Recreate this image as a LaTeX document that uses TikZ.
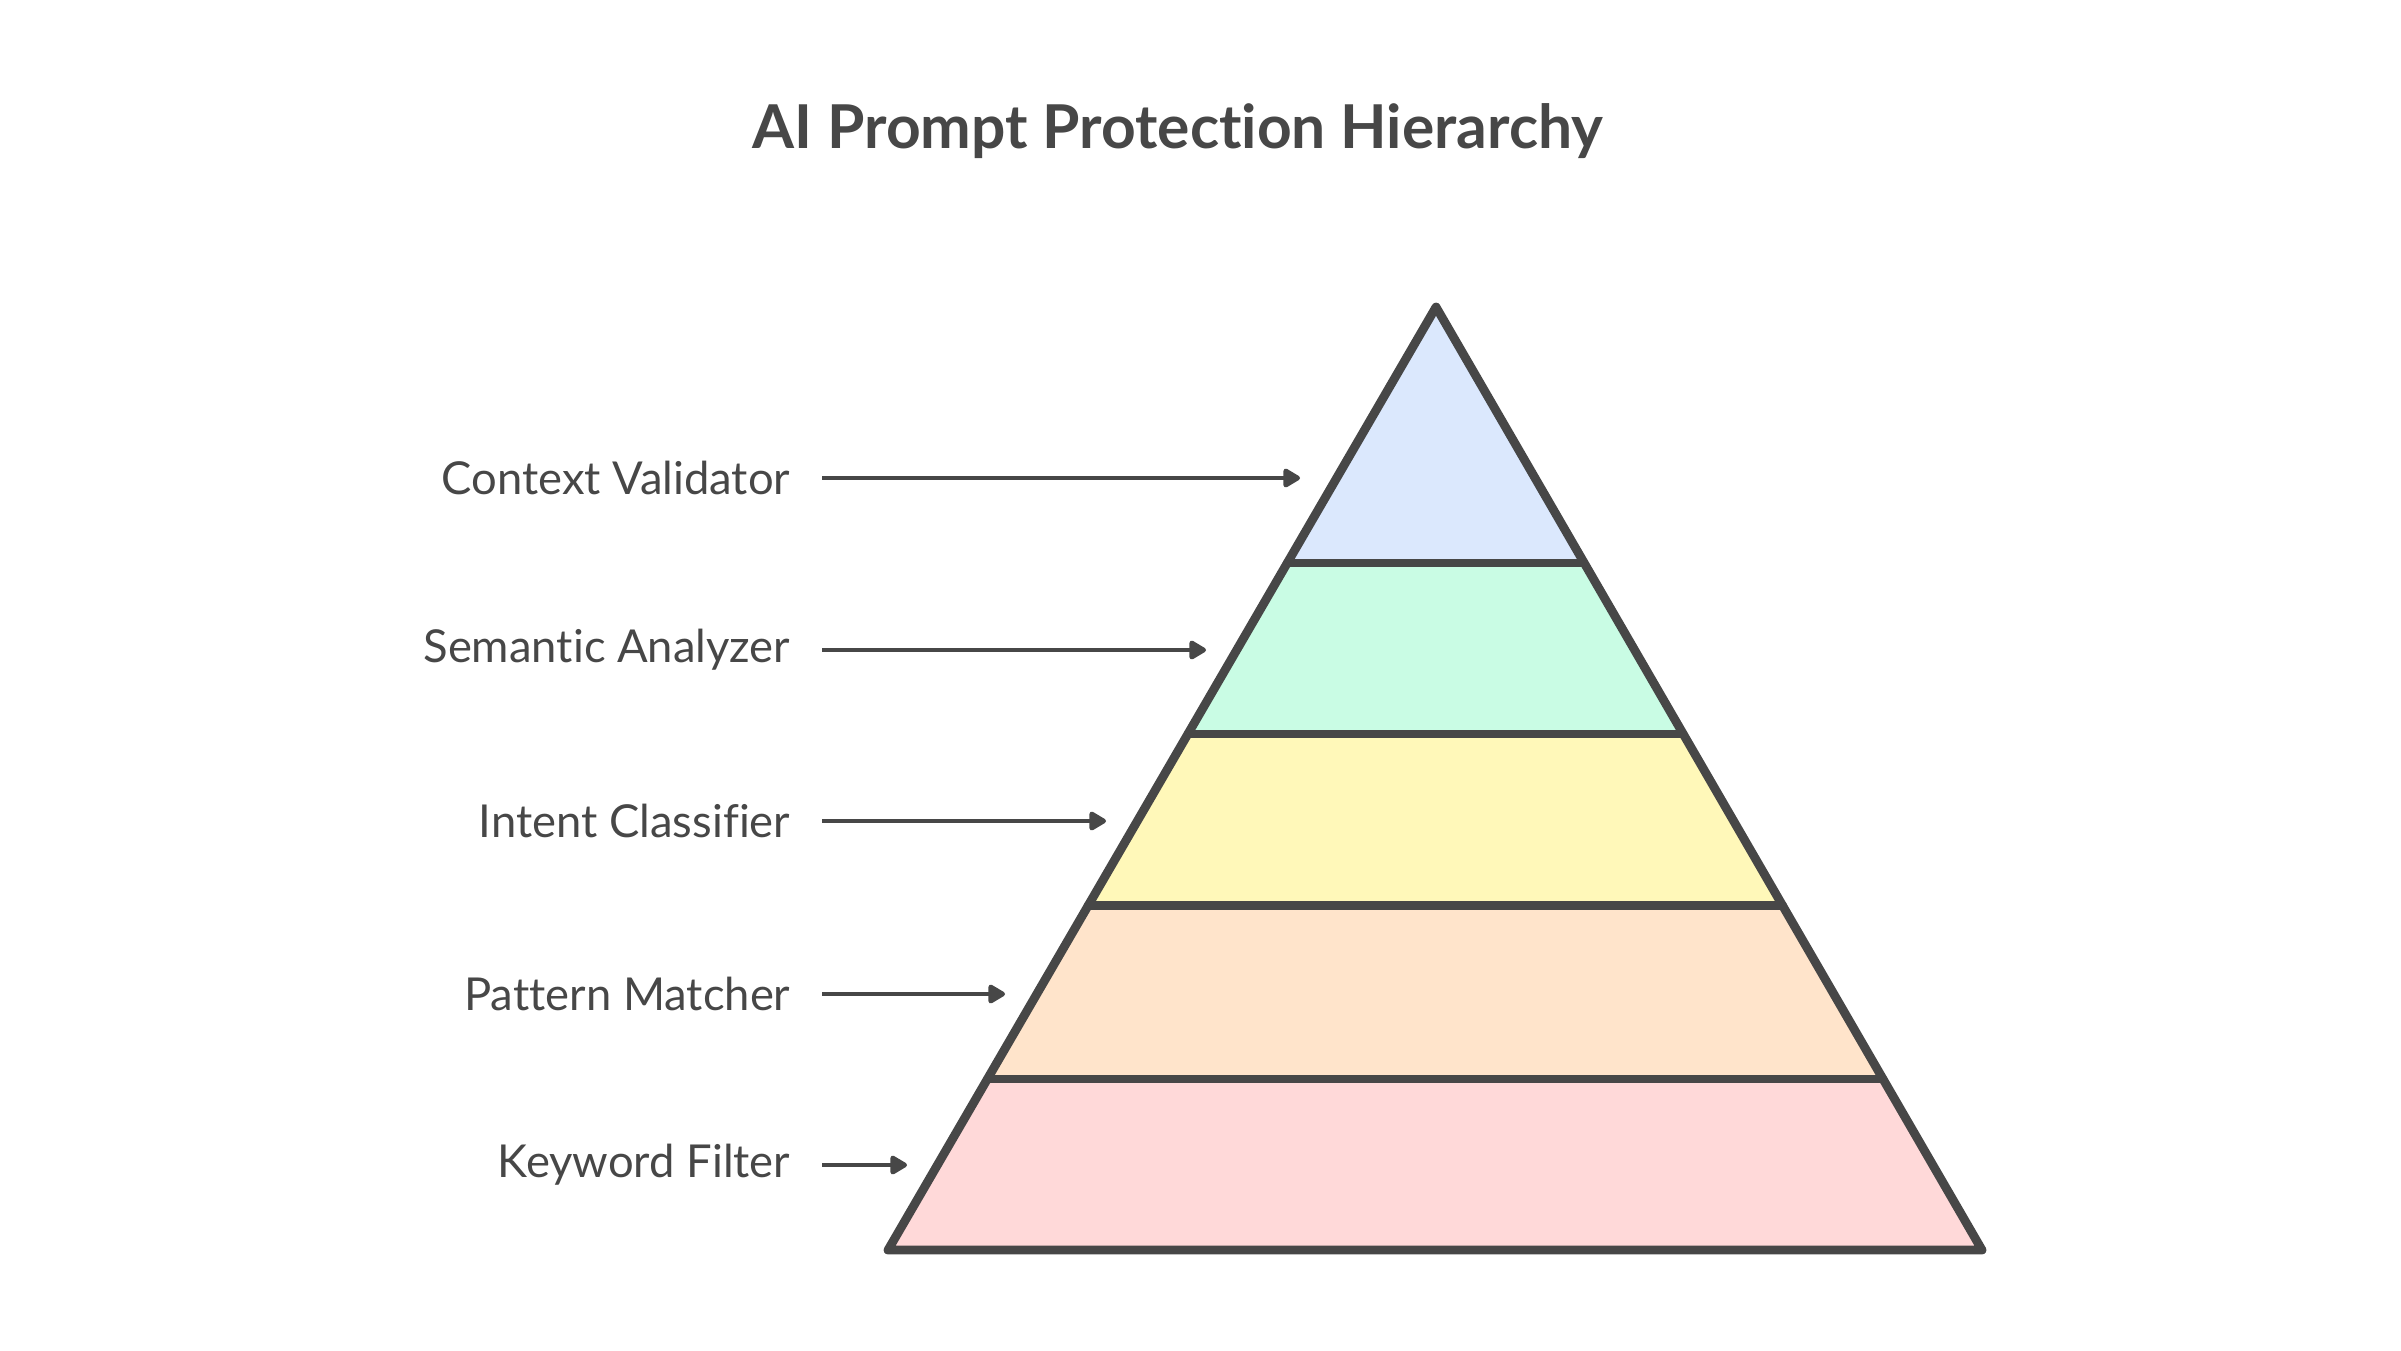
\documentclass[tikz,border=0pt]{standalone}
\usepackage{fontspec}
\setmainfont{Lato}[Ligatures=NoCommon]
\usetikzlibrary{calc,arrows.meta}
\definecolor{ink}{HTML}{474747}
\definecolor{topblue}{HTML}{DBE8FD}
\definecolor{midgreen}{HTML}{C9FCE4}
\definecolor{midyellow}{HTML}{FFF8B9}
\definecolor{loworange}{HTML}{FFE4CB}
\definecolor{basepink}{HTML}{FFD9D9}
\newcommand\band[3]{
  \fill[#3] ($ (apex)!#1!(bl) $) -- ($ (apex)!#2!(bl) $) -- ($ (apex)!#2!(br) $) -- ($ (apex)!#1!(br) $) -- cycle;
}
\newcommand\rung[1]{
  \draw[edge] ($ (apex)!#1!(bl) $) -- ($ (apex)!#1!(br) $);
}
\tikzset{
  edge/.style={ink,line width=2.5pt,line join=round,line cap=round},
  tag/.style={anchor=east,text=ink,font=\fontsize{12.9}{15}\selectfont,inner xsep=0.31cm,inner ysep=0pt},
  pointer/.style={ink,line width=1.3pt,-{Triangle[length=0.19cm,width=0.21cm,round]}}
}
\begin{document}
\begin{tikzpicture}[x=0.01cm,y=-0.01cm]
      \useasboundingbox (0,0) rectangle (2401,1350);
      \coordinate (apex) at (1436,307);
      \coordinate (bl) at (888,1250);
      \coordinate (br) at (1982,1250);

      \node[text=ink,font=\bfseries\fontsize{17.2}{20}\selectfont] (title) at (1178,131) {AI Prompt Protection Hierarchy};

      \band{0}{0.2715}{topblue}
      \band{0.2715}{0.4528}{midgreen}
      \band{0.4528}{0.635}{midyellow}
      \band{0.635}{0.8187}{loworange}
      \band{0.8187}{1}{basepink}

      \draw[edge] (apex) -- (bl) -- (br) -- cycle;
      \rung{0.2715}
      \rung{0.4528}
      \rung{0.635}
      \rung{0.8187}

      \node[tag] (context) at (822,478) {Context Validator};
      \node[tag] (semantic) at (822,650) {Semantic Analyzer};
      \node[tag] (intent) at (822,821) {Intent Classifier};
      \node[tag] (pattern) at (822,994) {Pattern Matcher};
      \node[tag] (keyword) at (822,1165) {Keyword Filter};

      \coordinate (contexttip) at (1300,478);
      \coordinate (semantictip) at (1206,650);
      \coordinate (intenttip) at (1106,821);
      \coordinate (patterntip) at (1005,994);
      \coordinate (keywordtip) at (907,1165);

      \draw[pointer] (context.east) -- (contexttip);
      \draw[pointer] (semantic.east) -- (semantictip);
      \draw[pointer] (intent.east) -- (intenttip);
      \draw[pointer] (pattern.east) -- (patterntip);
      \draw[pointer] (keyword.east) -- (keywordtip);

    \end{tikzpicture}
\end{document}
